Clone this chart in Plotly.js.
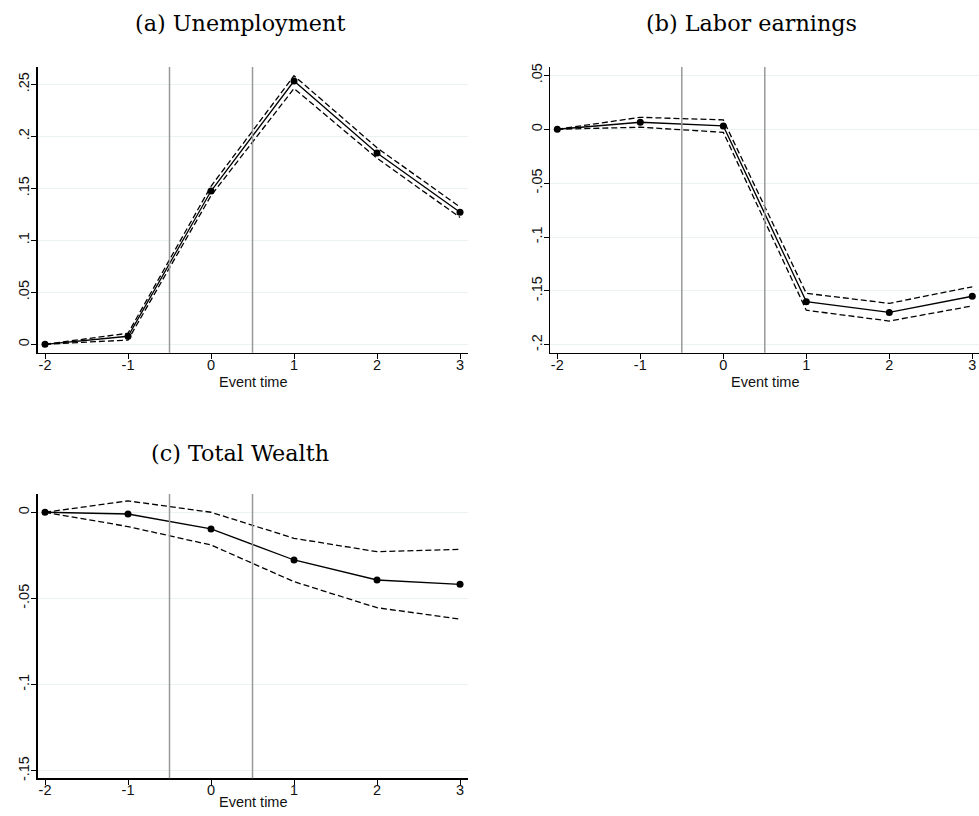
<!DOCTYPE html>
<html>
<head>
<meta charset="utf-8">
<script src="https://cdn.plot.ly/plotly-3.0.1.min.js"></script>
<style>html,body{margin:0;padding:0;background:#fff;}#chart{width:979px;height:816px;}</style>
</head>
<body>
<div id="chart"></div>
<script>
// Event time
const eventTime = [-2, -1, 0, 1, 2, 3];
const xTicks = [-2, -1, 0, 1, 2, 3];
const treatmentLines = [-0.5, 0.5];

// (a) Unemployment
const unempCoef = [0, 0.0077, 0.1474, 0.2532, 0.184, 0.127];
const unempUpper = [0, 0.0106, 0.152, 0.2583, 0.189, 0.132];
const unempLower = [0, 0.0041, 0.143, 0.246, 0.179, 0.122];
const unempTickVals = [0, 0.05, 0.1, 0.15, 0.2, 0.25];
const unempTickText = ["0", ".05", ".1", ".15", ".2", ".25"];

// (b) Labor earnings
const earnCoef = [0, 0.0065, 0.0031, -0.160, -0.170, -0.155];
const earnUpper = [0, 0.0111, 0.0087, -0.1523, -0.1616, -0.1462];
const earnLower = [0, 0.0019, -0.0028, -0.168, -0.178, -0.164];
const earnTickVals = [-0.2, -0.15, -0.1, -0.05, 0, 0.05];
const earnTickText = ["-.2", "-.15", "-.1", "-.05", "0", ".05"];

// (c) Total Wealth
const wealthCoef = [0, -0.001, -0.0097, -0.0277, -0.0393, -0.0418];
const wealthUpper = [0, 0.0066, 0.0, -0.0151, -0.0229, -0.0215];
const wealthLower = [0, -0.0083, -0.019, -0.0403, -0.0554, -0.062];
const wealthTickVals = [-0.15, -0.1, -0.05, 0];
const wealthTickText = ["-.15", "-.1", "-.05", "0"];

const panelTitles = ["(a) Unemployment", "(b) Labor earnings", "(c) Total Wealth"];
const xTitle = "Event time";

const W = 979, H = 816;
const px = v => v / W;
const py = v => 1 - v / H;

function panelTraces(coef, upper, lower, xa, ya) {
  const dash = {color: "#000", width: 1.3, dash: "6px,3px"};
  return [
    {x: eventTime, y: upper, xaxis: xa, yaxis: ya, mode: "lines", line: dash, hoverinfo: "skip", showlegend: false},
    {x: eventTime, y: lower, xaxis: xa, yaxis: ya, mode: "lines", line: dash, hoverinfo: "skip", showlegend: false},
    {x: eventTime, y: coef, xaxis: xa, yaxis: ya, mode: "lines+markers",
     line: {color: "#000", width: 1.3}, marker: {color: "#000", size: 7}, showlegend: false}
  ];
}

const data = [
  ...panelTraces(unempCoef, unempUpper, unempLower, "x", "y"),
  ...panelTraces(earnCoef, earnUpper, earnLower, "x2", "y2"),
  ...panelTraces(wealthCoef, wealthUpper, wealthLower, "x3", "y3")
];

const tickFont = {family: "Liberation Sans, Arial, sans-serif", size: 14.5, color: "#111"};

function xAxis(domain, range, anchor) {
  return {
    domain: domain, range: range, anchor: anchor,
    tickvals: xTicks, ticktext: xTicks.map(String),
    showline: true, linecolor: "#000", linewidth: 1.5, mirror: false,
    ticks: "outside", ticklen: 5, tickwidth: 1, tickcolor: "#000",
    ticklabelstandoff: -7,
    showgrid: false, zeroline: false, tickfont: tickFont
  };
}
function yAxis(domain, range, anchor, vals, text) {
  return {
    domain: domain, range: range, anchor: anchor,
    tickvals: vals, ticktext: text, tickangle: -90,
    showline: true, linecolor: "#000", linewidth: 1.5,
    ticks: "outside", ticklen: 5, tickwidth: 1, tickcolor: "#000",
    ticklabelstandoff: -4,
    showgrid: true, gridcolor: "#eaf2f3", gridwidth: 1, zeroline: false,
    tickfont: tickFont
  };
}

const shapes = [];
[["x", "y"], ["x2", "y2"], ["x3", "y3"]].forEach(([xa, ya]) => {
  treatmentLines.forEach(v => {
    shapes.push({type: "line", xref: xa, yref: ya + " domain", x0: v, x1: v, y0: 0, y1: 1,
      line: {color: "#999", width: 1.5}, layer: "above"});
  });
});

const titleFont = {family: "DejaVu Serif, serif", size: 22.3, color: "#000"};
const annotations = [
  {text: panelTitles[0], x: px(240), y: py(23), xref: "paper", yref: "paper", showarrow: false, font: titleFont, xanchor: "center", yanchor: "middle"},
  {text: panelTitles[1], x: px(751), y: py(23), xref: "paper", yref: "paper", showarrow: false, font: titleFont, xanchor: "center", yanchor: "middle"},
  {text: panelTitles[2], x: px(240), y: py(453), xref: "paper", yref: "paper", showarrow: false, font: titleFont, xanchor: "center", yanchor: "middle"},
  {text: xTitle, x: px(253), y: py(382), xref: "paper", yref: "paper", showarrow: false, font: tickFont, xanchor: "center", yanchor: "middle"},
  {text: xTitle, x: px(765), y: py(382), xref: "paper", yref: "paper", showarrow: false, font: tickFont, xanchor: "center", yanchor: "middle"},
  {text: xTitle, x: px(253), y: py(802), xref: "paper", yref: "paper", showarrow: false, font: tickFont, xanchor: "center", yanchor: "middle"}
];

const layout = {
  width: W, height: H,
  margin: {l: 0, r: 0, t: 0, b: 0},
  paper_bgcolor: "#fff", plot_bgcolor: "#fff",
  showlegend: false,
  xaxis: xAxis([px(37.7), px(468)], [-2.088, 3.096], "y"),
  yaxis: yAxis([py(352.7), py(67)], [-0.0081, 0.2667], "x", unempTickVals, unempTickText),
  xaxis2: xAxis([px(550), 1], [-2.088, 3.081], "y2"),
  yaxis2: yAxis([py(352.7), py(67)], [-0.2074, 0.0578], "x2", earnTickVals, earnTickText),
  xaxis3: xAxis([px(37.7), px(468)], [-2.088, 3.096], "y3"),
  yaxis3: yAxis([py(778.3), py(494)], [-0.1544, 0.0106], "x3", wealthTickVals, wealthTickText),
  shapes: shapes,
  annotations: annotations
};

Plotly.newPlot("chart", data, layout, {staticPlot: true, displayModeBar: false});
</script>
</body>
</html>
